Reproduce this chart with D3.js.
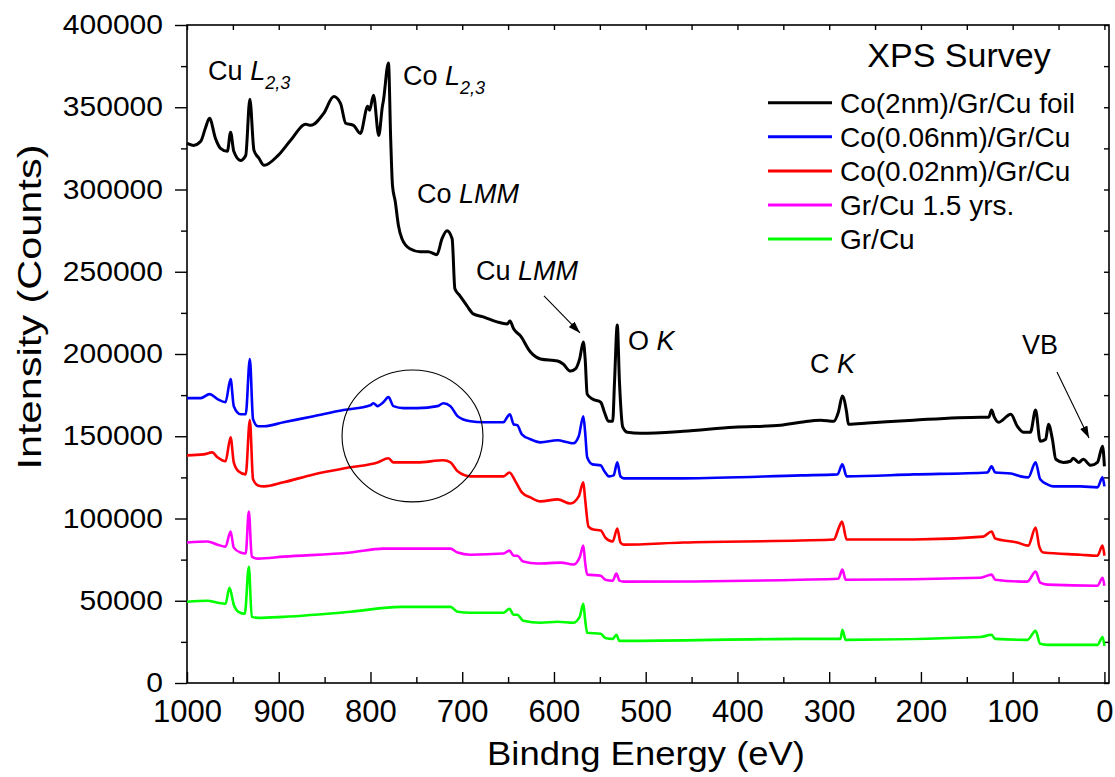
<!DOCTYPE html>
<html>
<head>
<meta charset="utf-8">
<script src="https://cdn.jsdelivr.net/npm/d3@7"></script>
<style>
  body { margin: 0; background: #fff; }
  svg { display: block; font-family: "Liberation Sans", Arial, sans-serif; }
</style>
</head>
<body>
<div id="chart"></div>
<script>
// XPS survey spectra, points are [binding energy (eV), intensity (counts)]
const co2nm = [[1000,328000],[993,326800],[985,329300],[980,337200],[975.5,343300],[969,331100],[963.5,325000],[956,323200],[952.5,334800],[949,323200],[941.7,317700],[936,320700],[931.5,354900],[927,323800],[921.6,319000],[916,314700],[900.7,320700],[887,329900],[870.6,339600],[865,339000],[851,346300],[840,356500],[832.7,352400],[827,340300],[818.5,339000],[811,334100],[803,350600],[801,348200],[796.7,357300],[791,332900],[787,350600],[786,353700],[780.4,376900],[778,331100],[776,302400],[773,292700],[769.5,278000],[765.7,270100],[757,264000],[746,262200],[737,262200],[727.6,260400],[722,270100],[716.6,275000],[711,270100],[708,239600],[702.5,235400],[694.8,229300],[688,224400],[677,222600],[662,219500],[651,218300],[648,220100],[644,215300],[636.5,211000],[625.6,201200],[614.7,197000],[596,195700],[590,193900],[582,189600],[576.6,190900],[572,197000],[568,207300],[566,197000],[563.8,175600],[558,172600],[549,170700],[545,164600],[540.6,159100],[536,159100],[534,182900],[531,217700],[528.6,182900],[525,155500],[520,152400],[506,151800],[459,153000],[404,155500],[353,156700],[331,158500],[309.5,159800],[295,159100],[290,164600],[285.6,174400],[281,164600],[279,157300],[258,158000],[208,159800],[135,161600],[126,161600],[123,165900],[120,161600],[115.5,158500],[102,163400],[95,156100],[88,152400],[80.7,152400],[75,165900],[70,147000],[64,148200],[61,157300],[56.7,148200],[53,136000],[44.7,134100],[37,134800],[34,136600],[28,134100],[23,136000],[15,132300],[7.6,134100],[2,143900],[0,131700]];

const co006 = [[1000,173200],[985,173200],[975.5,175600],[966.8,172600],[958,170700],[952.5,184800],[949,168300],[941.7,163400],[936,163400],[931.5,197000],[928,160400],[922.6,156100],[916,156100],[894.8,158500],[862,162200],[829.4,165900],[800,168900],[796.7,170100],[792.4,168300],[786,170700],[780.4,173800],[775,168300],[764,167100],[748.8,167100],[727,168300],[720.5,170100],[712.8,168300],[705,162200],[691,159100],[677,158500],[655,158500],[651,161600],[648,163400],[644,157300],[640,156700],[635,151200],[625.6,148200],[614.7,146300],[596,147600],[585,146300],[579,145700],[573,150000],[568,162200],[566,152400],[563.8,137200],[558,132900],[549,132300],[545,128700],[540,125600],[535,126200],[531,134100],[527.5,125600],[524,124400],[459,124400],[331,126200],[291,126800],[285.6,132900],[281,125600],[208,126800],[127.5,128000],[123,131700],[119,128000],[102,127400],[91.5,125600],[83,125000],[75,134100],[70,123800],[62,120700],[55.6,119500],[26,119500],[7.6,118900],[2,125000],[0,119500]];

const co002 = [[1000,138400],[982,139000],[972.5,140200],[966.8,137200],[958,134800],[952.5,149400],[949,134100],[943.9,128700],[936,126800],[931.5,159800],[928,123800],[922.6,120100],[916,119500],[894.8,122000],[862,126800],[821.8,131100],[792.4,134100],[780.4,136600],[775,134100],[748.8,134100],[720.5,135400],[712.8,134100],[705,128700],[691,125600],[655,125600],[648.5,128000],[642,122600],[635,115900],[625.6,112800],[614.7,110400],[596,111600],[582,109100],[573,113400],[568,122000],[566,111600],[562.4,95100],[557,93300],[549,92700],[544,88400],[536,86000],[531,93900],[527.5,85400],[524,84100],[459,85400],[331,86600],[295,87200],[289.4,94500],[286,98200],[281,87200],[208,87200],[132,89000],[123,92100],[119,87800],[95,85400],[83,83500],[75,94500],[71,82900],[66.5,79300],[26,78000],[7.6,77400],[2,83500],[0,77400]];

const grCuAged = [[1000,85400],[977.7,86000],[966.8,84100],[958,82900],[952.5,92100],[949,82300],[941.7,79300],[936,78700],[932.6,104300],[929.4,76800],[922.6,75600],[894.8,76800],[821.8,79300],[786,81700],[712.8,81700],[705,79300],[691,78000],[655,78700],[648.5,80500],[644,77400],[640,77400],[633.5,73800],[618,72600],[592.4,73200],[579,72000],[571.7,76800],[568,83500],[566,73200],[563.8,65900],[549,65200],[544,62800],[536,62200],[532,66500],[528.6,62200],[524,61600],[331,62800],[290,63400],[285.6,68900],[282,62800],[135,64000],[123,65900],[119,62800],[84,61600],[75,67700],[70,61000],[62,59800],[7.6,59100],[2,64000],[0,59100]];

const grCu = [[1000,49400],[977.7,50000],[966.8,48800],[958,48200],[953.7,57900],[949,47600],[943.9,43300],[937,42100],[932.6,70700],[929.4,40200],[922.6,39600],[894.8,40200],[821.8,43300],[767,46300],[712.8,46300],[705,43300],[691,42700],[655,42700],[648.5,45100],[644,41500],[640,41500],[633.5,37800],[614.7,36600],[596,37200],[579,36600],[572,40200],[568,48200],[566,38400],[563.8,30500],[549,29900],[544,27400],[536,26800],[532,29300],[528.6,25600],[524,25600],[331,26800],[287.7,26800],[285.6,32300],[282,26200],[135,28000],[123,29300],[119,26800],[84,26200],[75,31700],[70,23800],[62,23200],[7.6,23200],[2,28000],[0,22600]];

const seriesNames = ['Co(2nm)/Gr/Cu foil', 'Co(0.06nm)/Gr/Cu', 'Co(0.02nm)/Gr/Cu', 'Gr/Cu 1.5 yrs.', 'Gr/Cu'];
const seriesColors = ['#000000', '#0000ff', '#ff0000', '#ff00ff', '#00ff00'];
const seriesData = [co2nm, co006, co002, grCuAged, grCu];

const xTickValues = d3.range(0, 1001, 100);
const yTickValues = d3.range(0, 400001, 50000);

// peak labels: [energy, counts] of the text baseline start
const peakLabels = [
  { at: [977, 366600], parts: [['Cu ', ''], ['L', 'i'], ['2,3', 'sub']] },
  { at: [764.6, 363500], parts: [['Co ', ''], ['L', 'i'], ['2,3', 'sub']] },
  { at: [749.3, 291800], parts: [['Co ', ''], ['LMM', 'i']] },
  { at: [685, 245000], parts: [['Cu ', ''], ['LMM', 'i']] },
  { at: [519.3, 202400], parts: [['O ', ''], ['K', 'i']] },
  { at: [320.9, 188500], parts: [['C ', ''], ['K', 'i']] },
  { at: [89.8, 200000], parts: [['VB', '']] }
];
const arrows = [
  { from: [610.9, 235300], to: [571.6, 212800] },
  { from: [51.7, 189100], to: [16.8, 148900] }
];
const markedRegion = { center: [754.2, 150200], halfWidth: 76.8, halfHeight: 40100 };

const width = 1115, height = 777;
const x = d3.scaleLinear().domain([1000, -5]).range([187, 1109]);
const y = d3.scaleLinear().domain([0, 400000]).range([683, 25]);

const svg = d3.select('#chart').append('svg')
  .attr('width', width)
  .attr('height', height);

svg.append('defs').append('marker')
  .attr('id', 'head')
  .attr('viewBox', '0 0 12 8')
  .attr('refX', 12).attr('refY', 4)
  .attr('markerWidth', 12).attr('markerHeight', 8)
  .attr('markerUnits', 'userSpaceOnUse')
  .attr('orient', 'auto')
  .append('path')
  .attr('d', 'M0,0 L12,4 L0,8 Z')
  .attr('fill', '#000');

// axes
const leftAxis = svg.append('g').attr('transform', `translate(${x.range()[0]},0)`);
leftAxis.call(d3.axisLeft(y).tickValues(yTickValues).tickFormat(d3.format('d'))
  .tickSize(12).tickPadding(12).tickSizeOuter(0));
leftAxis.append('g').call(d3.axisLeft(y).tickValues(d3.range(25000, 400000, 50000)).tickSize(6).tickFormat(''));
leftAxis.selectAll('.tick text')
  .attr('font-size', 27)
  .attr('font-family', '"Liberation Sans", Arial, sans-serif')
  .attr('fill', '#000')
  .attr('textLength', function() { return this.textContent.length * 16.7; })
  .attr('lengthAdjust', 'spacingAndGlyphs');

const bottomAxis = svg.append('g').attr('transform', `translate(0,${y.range()[0]})`);
bottomAxis.call(d3.axisBottom(x).tickValues(xTickValues).tickFormat(d3.format('d'))
  .tickSize(-11).tickPadding(17).tickSizeOuter(0));
bottomAxis.append('g').call(d3.axisBottom(x).tickValues(d3.range(50, 1000, 100)).tickSize(-6).tickFormat(''));
bottomAxis.selectAll('.tick text')
  .attr('font-size', 31)
  .attr('font-family', '"Liberation Sans", Arial, sans-serif')
  .attr('fill', '#000');

const topAxis = svg.append('g').attr('transform', `translate(0,${y.range()[1]})`);
topAxis.call(d3.axisTop(x).tickValues(d3.range(0, 1001, 50)).tickSize(-5).tickFormat('').tickSizeOuter(0));
const rightAxis = svg.append('g').attr('transform', `translate(${x.range()[1]},0)`);
rightAxis.call(d3.axisRight(y).tickValues(d3.range(0, 400001, 25000)).tickSize(-5).tickFormat('').tickSizeOuter(0));

svg.selectAll('.domain').remove();
svg.selectAll('.tick line').attr('stroke', '#000').attr('stroke-width', 1.4);

svg.append('rect')
  .attr('x', x.range()[0]).attr('y', y.range()[1])
  .attr('width', x.range()[1] - x.range()[0])
  .attr('height', y.range()[0] - y.range()[1])
  .attr('fill', 'none')
  .attr('stroke', '#000')
  .attr('stroke-width', 1.6);

// spectra
const line = d3.line()
  .x(d => x(d[0]))
  .y(d => y(d[1]))
  .curve(d3.curveMonotoneX);
svg.append('g')
  .attr('fill', 'none')
  .attr('stroke-linejoin', 'round')
  .selectAll('path')
  .data(seriesData)
  .join('path')
  .attr('d', line)
  .attr('stroke', (d, i) => seriesColors[i])
  .attr('stroke-width', (d, i) => i === 0 ? 3 : 2.6);

// axis titles
svg.append('text')
  .attr('transform', 'translate(41,307) rotate(-90)')
  .attr('text-anchor', 'middle')
  .attr('font-size', 34)
  .attr('textLength', 325)
  .attr('lengthAdjust', 'spacingAndGlyphs')
  .text('Intensity (Counts)');

svg.append('text')
  .attr('x', 646).attr('y', 765)
  .attr('text-anchor', 'middle')
  .attr('font-size', 34)
  .attr('textLength', 318)
  .attr('lengthAdjust', 'spacingAndGlyphs')
  .text('Bindng Energy (eV)');

// peak labels
const labels = svg.append('g').attr('font-size', 27).attr('fill', '#000');
peakLabels.forEach(p => {
  const t = labels.append('text').attr('x', x(p.at[0])).attr('y', y(p.at[1]));
  p.parts.forEach(([s, kind]) => {
    const span = t.append('tspan').text(s);
    if (kind === 'i' || kind === 'sub') span.attr('font-style', 'italic');
    if (kind === 'sub') span.attr('font-size', 18).attr('dy', 9);
  });
});

svg.append('g').selectAll('line')
  .data(arrows)
  .join('line')
  .attr('x1', d => x(d.from[0])).attr('y1', d => y(d.from[1]))
  .attr('x2', d => x(d.to[0])).attr('y2', d => y(d.to[1]))
  .attr('stroke', '#000')
  .attr('stroke-width', 1.1)
  .attr('marker-end', 'url(#head)');

svg.append('ellipse')
  .attr('cx', x(markedRegion.center[0]))
  .attr('cy', y(markedRegion.center[1]))
  .attr('rx', x(1000 - markedRegion.halfWidth) - x(1000))
  .attr('ry', y(0) - y(markedRegion.halfHeight))
  .attr('fill', 'none')
  .attr('stroke', '#000')
  .attr('stroke-width', 1.1);

// legend
svg.append('text')
  .attr('x', 959).attr('y', 67)
  .attr('text-anchor', 'middle')
  .attr('font-size', 34)
  .text('XPS Survey');

const legend = svg.append('g')
  .selectAll('g')
  .data(seriesNames)
  .join('g')
  .attr('transform', (d, i) => `translate(768,${102.7 + i * 34.1})`);
legend.append('line')
  .attr('x1', 0).attr('x2', 64)
  .attr('stroke', (d, i) => seriesColors[i])
  .attr('stroke-width', 3);
legend.append('text')
  .attr('x', 72).attr('y', 10)
  .attr('font-size', 28)
  .text(d => d);
</script>
</body>
</html>
